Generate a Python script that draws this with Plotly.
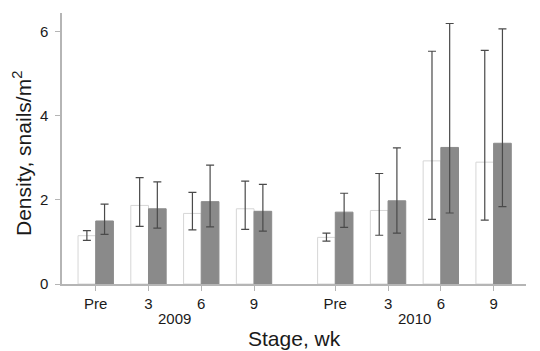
import plotly.graph_objects as go

# ---- data ----
stages = ["Pre", "3", "6", "9", "Pre", "3", "6", "9"]
years = ["2009", "2010"]
group_pos = [0, 1, 2, 3, 4.54, 5.54, 6.54, 7.54]

white_vals = [1.15, 1.87, 1.68, 1.79, 1.11, 1.75, 2.93, 2.90]
white_hi = [1.27, 2.53, 2.18, 2.45, 1.21, 2.63, 5.54, 5.56]
white_lo = [1.04, 1.37, 1.29, 1.30, 1.02, 1.16, 1.54, 1.52]

gray_vals = [1.50, 1.79, 1.96, 1.73, 1.71, 1.98, 3.25, 3.35]
gray_hi = [1.90, 2.43, 2.83, 2.37, 2.16, 3.24, 6.20, 6.07]
gray_lo = [1.18, 1.33, 1.36, 1.26, 1.35, 1.21, 1.69, 1.84]

bw = 0.335
FONT = "Liberation Sans, Arial, sans-serif"

fig = go.Figure()

def add(vals, hi, lo, shift, fill, line):
    fig.add_trace(go.Bar(
        x=[p + shift for p in group_pos], y=vals, width=bw,
        marker=dict(color=fill, line=dict(color=line, width=1)),
        error_y=dict(type="data", symmetric=False,
                     array=[h - v for h, v in zip(hi, vals)],
                     arrayminus=[v - l for v, l in zip(vals, lo)],
                     color="#4a4a4a", thickness=1.2, width=4),
        showlegend=False,
    ))

add(white_vals, white_hi, white_lo, -bw / 2, "white", "#d6d6d6")
add(gray_vals, gray_hi, gray_lo, bw / 2, "#8a8a8a", "#8a8a8a")

fig.update_layout(
    width=540, height=351,
    margin=dict(l=62, r=14, t=13, b=67),
    paper_bgcolor="white", plot_bgcolor="white",
    barmode="overlay",
    font=dict(family=FONT, color="#1a1a1a", size=15),
    xaxis=dict(range=[-0.639, 8.154], tickvals=group_pos, ticktext=stages,
               showgrid=False, zeroline=False, showline=True,
               linecolor="#b5b5b5", linewidth=1.5,
               ticks="outside", ticklen=5, tickcolor="#b5b5b5",
               tickfont=dict(size=15)),
    yaxis=dict(range=[0, 6.45], tickvals=[0, 2, 4, 6],
               showgrid=False, zeroline=False, showline=True,
               linecolor="#b5b5b5", linewidth=1.5,
               ticks="outside", ticklen=5, tickcolor="#b5b5b5",
               ticklabelstandoff=4,
               tickfont=dict(size=15)),
)

year_x = [1.5, 4.54 + 1.5]
for yx, yl in zip(year_x, years):
    fig.add_annotation(x=yx, y=-0.127, xref="x", yref="paper", text=yl,
                       showarrow=False, font=dict(size=15), yanchor="middle")

fig.add_annotation(x=0.5, y=-0.2, xref="paper", yref="paper", text="Stage, wk",
                   showarrow=False, font=dict(size=21), yanchor="middle")
fig.add_annotation(x=-0.086, y=0.48, xref="paper", yref="paper",
                   text="Density, snails/m<sup>2</sup>", textangle=-90,
                   showarrow=False, font=dict(size=21), xanchor="center", yanchor="middle")

fig.write_html("out.html")
